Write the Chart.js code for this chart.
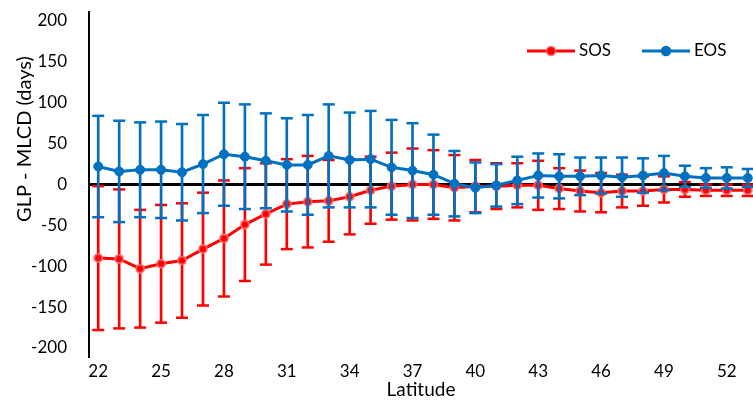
<!DOCTYPE html>
<html>
<head>
<meta charset="utf-8">
<script src="https://cdn.jsdelivr.net/npm/chart.js@4/dist/chart.umd.min.js"></script>
<style>
  html, body { margin: 0; padding: 0; background: #fff; }
  #wrap { width: 753px; height: 403px; }
</style>
</head>
<body>
<div id="wrap"><canvas id="glp-chart"></canvas></div>
<script>
const latitudes = [22, 23, 24, 25, 26, 27, 28, 29, 30, 31, 32, 33, 34, 35, 36, 37,
                   38, 39, 40, 41, 42, 43, 44, 45, 46, 47, 48, 49, 50, 51, 52, 53];
const sosMean = [-90, -91, -103, -97, -93, -79, -66, -49, -36, -24, -21, -20, -15, -7, -2, 0,
                 0, -4, -2, -2, -1, -1, -5, -8, -10, -8, -8, -6, -6, -7, -7, -7];
const sosSd = [88, 85, 72, 72, 70, 69, 71, 69, 62, 55, 56, 50, 46, 41, 41, 44,
               42, 40, 32, 28, 27, 30, 25, 25, 24, 20, 18, 16, 9, 7, 7, 7];
const eosMean = [22, 16, 18, 18, 15, 25, 37, 34, 29, 24, 24, 35, 30, 31, 21, 17,
                 12, 1, -4, -1, 5, 11, 10, 10, 11, 9, 11, 14, 10, 8, 8, 8];
const eosSd = [62, 62, 58, 59, 59, 60, 63, 64, 58, 57, 61, 63, 58, 59, 58, 58,
               49, 40, 31, 26, 29, 27, 27, 23, 22, 24, 21, 21, 13, 12, 13, 11];
const xTickValues = [22, 25, 28, 31, 34, 37, 40, 43, 46, 49, 52];
const yTickValues = [-200, -150, -100, -50, 0, 50, 100, 150, 200];
const seriesNames = ["SOS", "EOS"];
const yTitle = "GLP - MLCD (days)";

const sosColor = "#ff0000";
const sosHalo = "rgba(255,110,110,0.8)";
const eosColor = "#0070c0";
const fontFamily = "Lato, 'Noto Sans', sans-serif";
const xMin = 21.56, xMax = 53.25;

// little line+marker swatch for the legend
function legendSwatch(color, halo) {
  const c = document.createElement("canvas");
  c.width = 48; c.height = 12;
  const g = c.getContext("2d");
  g.strokeStyle = color; g.lineWidth = 3;
  g.beginPath(); g.moveTo(0, 6); g.lineTo(48, 6); g.stroke();
  g.beginPath(); g.arc(24, 6, 4.5, 0, Math.PI * 2);
  g.fillStyle = color; g.fill();
  g.lineWidth = 1.5; g.strokeStyle = halo; g.stroke();
  return c;
}

function rangeData(mean, sd) {
  return latitudes.map((x, i) => ({ x: x, y: [mean[i] - sd[i], mean[i] + sd[i]] }));
}
function capData(mean, sd) {
  const lo = latitudes.map((x, i) => ({ x: x, y: mean[i] - sd[i] }));
  const hi = latitudes.map((x, i) => ({ x: x, y: mean[i] + sd[i] }));
  return lo.concat(hi);
}
function lineData(mean) {
  return latitudes.map((x, i) => ({ x: x, y: mean[i] }));
}
function noPadding(s) {
  s.paddingTop = 0; s.paddingBottom = 0; s.paddingLeft = 0; s.paddingRight = 0;
}

const swatches = [legendSwatch(sosColor, sosHalo), legendSwatch(eosColor, eosColor)];

// excel-like legend inside the plot (top right) and the y title, which sits above centre
const excelBits = {
  id: "excelBits",
  afterDraw(chart) {
    const ctx = chart.ctx;
    const area = chart.chartArea;
    const y = area.top + 39;
    let x = area.right - 226;
    ctx.save();
    ctx.font = "17px " + fontFamily;
    ctx.fillStyle = "#000";
    ctx.textBaseline = "middle";
    ctx.textAlign = "left";
    seriesNames.forEach((name, i) => {
      ctx.drawImage(swatches[i], x, y - 6);
      ctx.fillText(name, x + 52, y);
      x += 115;
    });
    ctx.translate(25, area.top + 127);
    ctx.rotate(-Math.PI / 2);
    ctx.textAlign = "center";
    ctx.font = "20px " + fontFamily;
    ctx.fillText(yTitle, 0, 0);
    ctx.restore();
  }
};

new Chart(document.getElementById("glp-chart"), {
  type: "line",
  plugins: [excelBits],
  data: {
    datasets: [
      { label: seriesNames[0], data: lineData(sosMean), order: 4, borderColor: sosColor, borderWidth: 3,
        pointRadius: 4, pointBackgroundColor: sosColor, pointBorderColor: sosHalo,
        pointBorderWidth: 2, tension: 0 },
      { label: seriesNames[1], data: lineData(eosMean), order: 1, borderColor: eosColor, borderWidth: 3,
        pointRadius: 4.5, pointBackgroundColor: eosColor, pointBorderColor: eosColor,
        pointBorderWidth: 1, tension: 0 },
      { type: "bar", label: "sos-err", data: rangeData(sosMean, sosSd), order: 6,
        backgroundColor: sosColor, barThickness: 2, grouped: false },
      { label: "sos-cap", data: capData(sosMean, sosSd), order: 5, showLine: false,
        pointStyle: "line", pointRadius: 6, pointBorderColor: sosColor, pointBorderWidth: 2.5 },
      { type: "bar", label: "eos-err", data: rangeData(eosMean, eosSd), order: 3,
        backgroundColor: eosColor, barThickness: 2, grouped: false },
      { label: "eos-cap", data: capData(eosMean, eosSd), order: 2, showLine: false,
        pointStyle: "line", pointRadius: 6, pointBorderColor: eosColor, pointBorderWidth: 2.5 }
    ]
  },
  options: {
    responsive: true,
    maintainAspectRatio: false,
    animation: false,
    layout: { autoPadding: false, padding: { top: 12, left: 0, right: 0, bottom: 0 } },
    plugins: {
      tooltip: { enabled: false },
      legend: { display: false }
    },
    scales: {
      x: {
        type: "linear", position: "bottom", min: xMin, max: xMax, offset: false,
        grid: { display: false, drawTicks: false },
        border: { display: false },
        afterBuildTicks: (s) => { s.ticks = xTickValues.map(v => ({ value: v })); },
        afterFit: (s) => { s.height = 46; noPadding(s); },
        ticks: { color: "#000", padding: 4, maxRotation: 0, autoSkip: false,
                 font: { family: fontFamily, size: 17 } },
        title: { display: true, text: "Latitude", color: "#000", padding: { top: 0, bottom: 2 },
                 font: { family: fontFamily, size: 19 } }
      },
      x0: {
        type: "linear", position: { y: 0 }, min: xMin, max: xMax, offset: false,
        afterBuildTicks: (s) => { s.ticks = latitudes.map(v => ({ value: v })); },
        afterFit: (s) => { s.height = 0; noPadding(s); },
        grid: { drawOnChartArea: false, drawTicks: true, tickLength: 4, color: "#000", lineWidth: 2 },
        border: { display: true, color: "#000", width: 3 },
        ticks: { display: false }
      },
      y: {
        type: "linear", min: -211, max: 211,
        afterBuildTicks: (s) => { s.ticks = yTickValues.map(v => ({ value: v })); },
        afterFit: (s) => { s.width = 89; noPadding(s); },
        grid: { display: false, drawTicks: false },
        border: { display: true, color: "#000", width: 2 },
        ticks: { color: "#000", padding: 22, font: { family: fontFamily, size: 17 } }
      }
    }
  }
});
</script>
</body>
</html>
